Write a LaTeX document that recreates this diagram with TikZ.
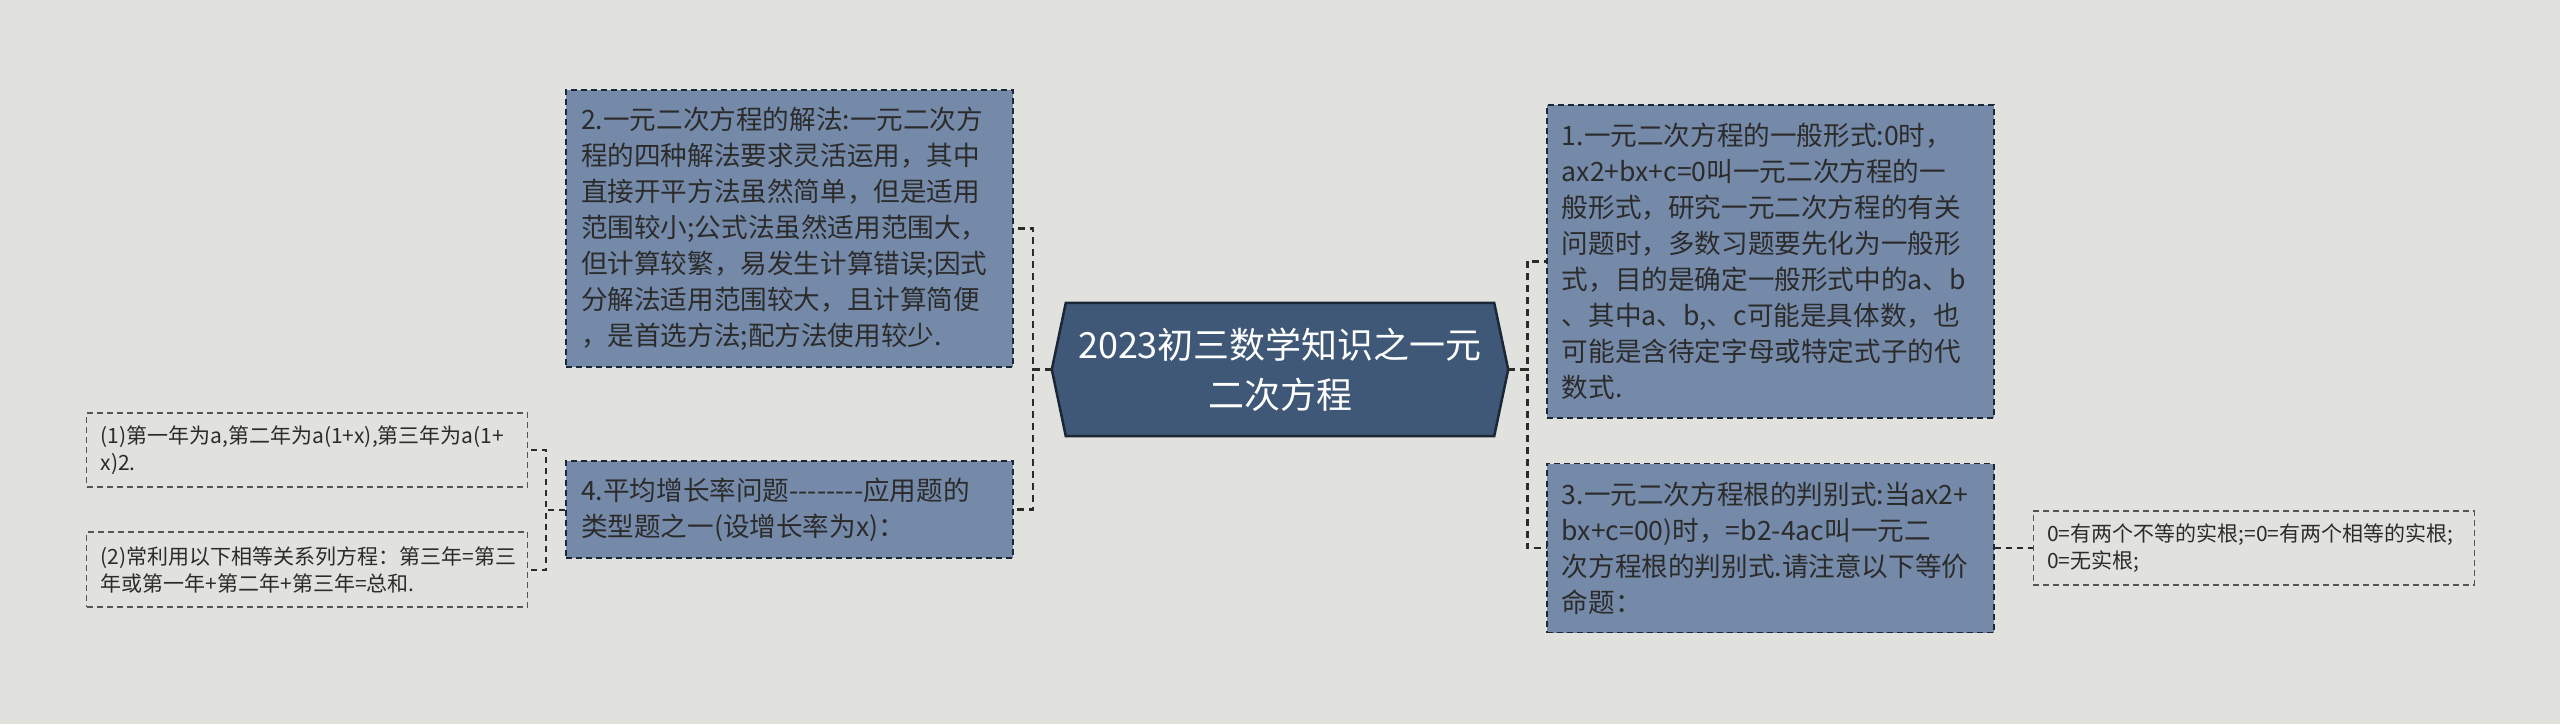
\documentclass[tikz,border=0pt]{standalone}
\usepackage{fontspec}
\setmainfont{Noto Sans CJK SC}[Ligatures=TeXOff]
\usetikzlibrary{positioning, backgrounds}
\definecolor{canvas}{HTML}{E1E2DD}
\definecolor{leaffill}{HTML}{758AA9}
\definecolor{hubfill}{HTML}{3F5878}
\definecolor{hubline}{HTML}{1B2636}
\definecolor{ink}{HTML}{2B2B2B}
\tikzset{
  leaf/.style={rectangle,draw=hubline,fill=leaffill,dash pattern=on 6pt off 4pt,line width=1.4pt,
    text=ink,align=left,text width=417pt,inner xsep=15pt,font=\fontsize{26.6}{36}\selectfont},
  note/.style={rectangle,draw=ink!80,dash pattern=on 6pt off 4pt,line width=1.3pt,
    text=ink,align=left,text width=413pt,inner xsep=14pt,font=\fontsize{21}{27}\selectfont},
  hub/.style={rectangle,minimum width=456pt,minimum height=133pt,align=center,text=white,
    font=\fontsize{36}{50}\selectfont},
  link/.style={draw=ink,line width=2.6pt,dash pattern=on 7pt off 5pt},
  sublink/.style={draw=ink,line width=2pt,dash pattern=on 6pt off 5pt}
}

\begin{document}
\begin{tikzpicture}[x=1pt,y=1pt]
\useasboundingbox (0,0) rectangle (2560,724);
\node[hub] (hub) at (1280,354.5) {2023初三数学知识之一元\\二次方程};
% left branch
\node[leaf, minimum height=277pt, left=38pt of hub, yshift=141pt] (sol) {2.一元二次方程的解法:一元二次方\\程的四种解法要求灵活运用，其中\\直接开平方法虽然简单，但是适用\\范围较小;公式法虽然适用范围大，\\但计算较繁，易发生计算错误;因式\\分解法适用范围较大，且计算简便\\，是首选方法;配方法使用较少.};
\node[leaf, minimum height=97pt, left=38pt of hub, yshift=-140pt] (rate) {4.平均增长率问题--------应用题的\\类型题之一(设增长率为x)：};
\node[note, minimum height=74pt, left=37pt of rate, yshift=59.5pt] (yr1) {(1)第一年为a,第二年为a(1+x),第三年为a(1+\\x)2.};
\node[note, minimum height=75pt, left=37pt of rate, yshift=-60pt] (yr2) {(2)常利用以下相等关系列方程：第三年=第三\\年或第一年+第二年+第三年=总和.};
% right branch
\node[leaf, minimum height=313pt, right=38pt of hub, yshift=108pt] (form) {1.一元二次方程的一般形式:0时，\\ax2+bx+c=0叫一元二次方程的一\\般形式，研究一元二次方程的有关\\问题时，多数习题要先化为一般形\\式，目的是确定一般形式中的a、b\\、其中a、b,、c可能是具体数，也\\可能是含待定字母或特定式子的代\\数式.};
\node[leaf, minimum height=169pt, right=38pt of hub, yshift=-178.5pt] (disc) {3.一元二次方程根的判别式:当ax2+\\bx+c=00)时，=b2-4ac叫一元二\\次方程根的判别式.请注意以下等价\\命题：};
\node[note, minimum height=74pt, right=38pt of disc] (root) {0=有两个不等的实根;=0=有两个相等的实根;\\0=无实根;};
% connectors
\draw[link] (hub.west) -- ++(-19,0) |- (sol.east);
\draw[link] (hub.west) -- ++(-19,0) |- (rate.east);
\draw[link] (hub.east) -- ++(19,0) |- (form.west);
\draw[link] (hub.east) -- ++(19,0) |- (disc.west);
\draw[sublink] (rate.west) -- ++(-19,0) |- (yr1.east);
\draw[sublink] (rate.west) -- ++(-19,0) |- (yr2.east);
\draw[sublink] (disc.east) -- (root.west);
\begin{scope}[on background layer]
\fill[canvas] (0,0) rectangle (2560,724);
\filldraw[fill=hubfill,draw=hubline,line width=2.5pt,line join=miter]
  (hub.west) -- ([xshift=14pt]hub.north west) -- ([xshift=-14pt]hub.north east)
  -- (hub.east) -- ([xshift=-14pt]hub.south east) -- ([xshift=14pt]hub.south west) -- cycle;
\end{scope}
\end{tikzpicture}
\end{document}
